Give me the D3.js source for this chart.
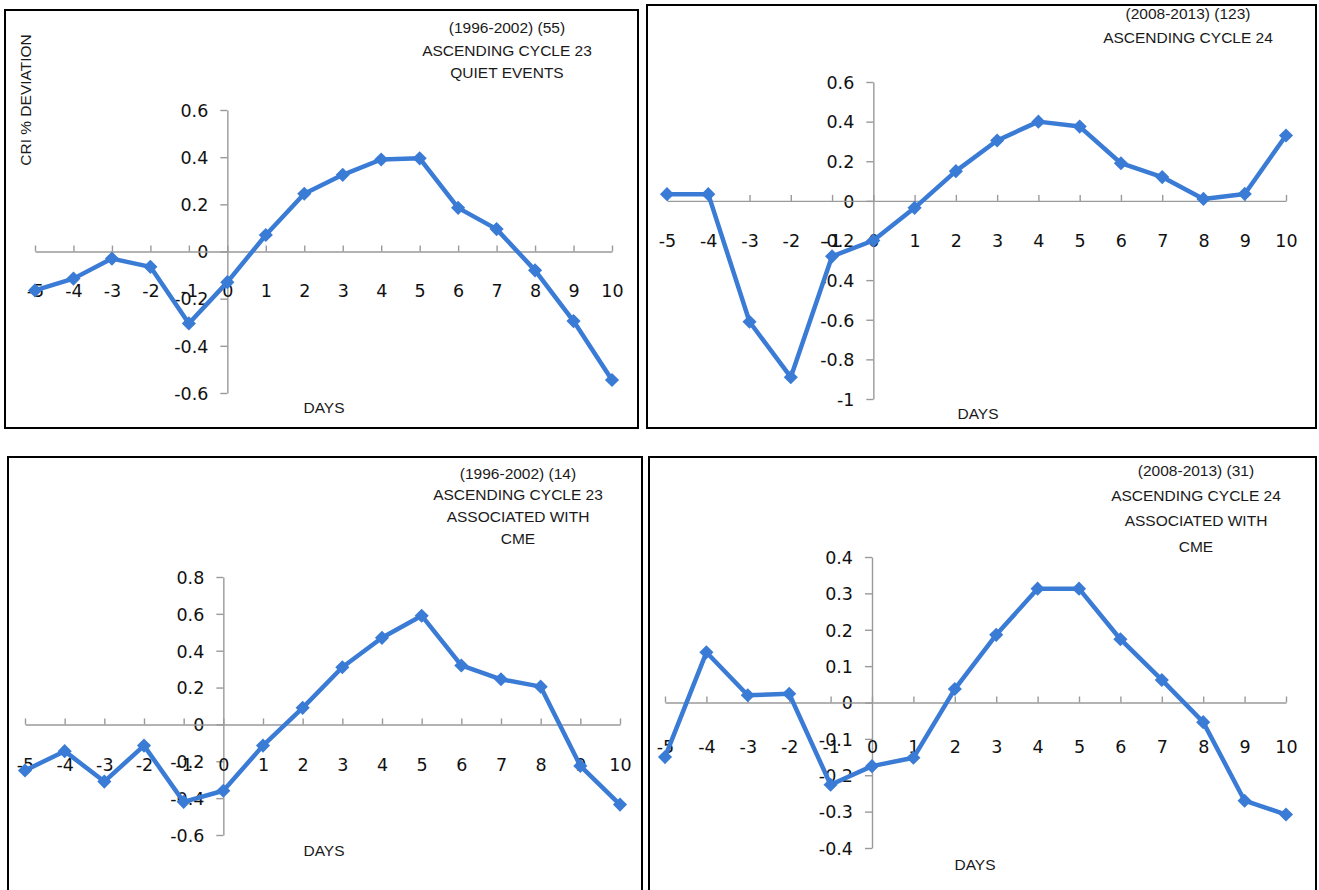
<!DOCTYPE html>
<html>
<head>
<meta charset="utf-8">
<script src="https://cdn.jsdelivr.net/npm/d3@7/dist/d3.min.js"></script>
<style>
  html, body { margin: 0; padding: 0; background: #fff; }
  svg { display: block; }
  .tick text { font-family: "DejaVu Sans", sans-serif; font-size: 17.5px; fill: #111; }
  .note { font-family: "Liberation Sans", Arial, sans-serif; font-size: 15.5px; fill: #1a1a1a; }
</style>
</head>
<body>
<svg id="chart" width="1319" height="890"></svg>
<script>
// Superposed-epoch days relative to the event
const days = [-5, -4, -3, -2, -1, 0, 1, 2, 3, 4, 5, 6, 7, 8, 9, 10];

// CRI % deviation, one series per panel
const quietCycle23 = [-0.165, -0.115, -0.03, -0.065, -0.305, -0.13, 0.07, 0.245, 0.325, 0.39, 0.395, 0.185, 0.095, -0.08, -0.295, -0.545];
const quietCycle24 = [0.034, 0.034, -0.61, -0.89, -0.28, -0.2, -0.035, 0.15, 0.305, 0.4, 0.375, 0.19, 0.12, 0.01, 0.035, 0.33];
const cmeCycle23 = [-0.25, -0.145, -0.31, -0.115, -0.42, -0.36, -0.115, 0.09, 0.31, 0.47, 0.59, 0.32, 0.245, 0.205, -0.225, -0.435];
const cmeCycle24 = [-0.15, 0.138, 0.02, 0.024, -0.226, -0.175, -0.152, 0.037, 0.186, 0.313, 0.313, 0.174, 0.062, -0.054, -0.27, -0.308];

// Value-axis tick labels
const ticksQuiet23 = [0.6, 0.4, 0.2, 0, -0.2, -0.4, -0.6];
const ticksQuiet24 = [0.6, 0.4, 0.2, 0, -0.2, -0.4, -0.6, -0.8, -1];
const ticksCme23 = [0.8, 0.6, 0.4, 0.2, 0, -0.2, -0.4, -0.6];
const ticksCme24 = [0.4, 0.3, 0.2, 0.1, 0, -0.1, -0.2, -0.3, -0.4];

// Panel headings
const titleQuiet23 = ["(1996-2002) (55)", "ASCENDING CYCLE 23", "QUIET EVENTS"];
const titleQuiet24 = ["(2008-2013) (123)", "ASCENDING CYCLE 24"];
const titleCme23 = ["(1996-2002) (14)", "ASCENDING CYCLE 23", "ASSOCIATED WITH", "CME"];
const titleCme24 = ["(2008-2013) (31)", "ASCENDING CYCLE 24", "ASSOCIATED WITH", "CME"];

const LINE = "#3a7bd5";
const AXIS = "#9a9a9a";

const panels = [
  { values: quietCycle23, ticks: ticksQuiet23, title: titleQuiet23, yLabel: "CRI % DEVIATION",
    box: [5, 10, 638, 428], xr: [35, 612], yd: [-0.6, 0.6], yr: [393, 110],
    tx: 507, ty: [27, 50, 72], days: [324, 407], lab: 39 },
  { values: quietCycle24, ticks: ticksQuiet24, title: titleQuiet24,
    box: [647, 5, 1316, 428], xr: [667, 1286], yd: [-1, 0.6], yr: [399, 82],
    tx: 1188, ty: [13, 37], days: [978, 413], lab: 40 },
  { values: cmeCycle23, ticks: ticksCme23, title: titleCme23,
    box: [8, 457, 642, 900], xr: [25, 620], yd: [-0.6, 0.8], yr: [835, 577],
    tx: 518, ty: [473, 494, 516, 538], days: [324, 850], lab: 40 },
  { values: cmeCycle24, ticks: ticksCme24, title: titleCme24,
    box: [649, 457, 1316, 900], xr: [665, 1286], yd: [-0.4, 0.4], yr: [848, 557],
    tx: 1196, ty: [470, 495, 520, 546], days: [975, 864], lab: 44 }
];

const svg = d3.select("#chart");
const fmt = v => String(Math.round(v * 10) / 10);

panels.forEach(p => {
  const g = svg.append("g");
  const [x0, y0, x1, y1] = p.box;

  // frame
  g.append("rect")
    .attr("x", x0).attr("y", y0)
    .attr("width", x1 - x0).attr("height", y1 - y0)
    .attr("fill", "none").attr("stroke", "#000").attr("stroke-width", 2);

  const x = d3.scaleLinear().domain([-5, 10]).range(p.xr);
  const y = d3.scaleLinear().domain(p.yd).range(p.yr);

  // value axis through day 0
  const ya = g.append("g")
    .attr("transform", `translate(${x(0)},0)`)
    .call(d3.axisLeft(y).tickValues(p.ticks).tickFormat(fmt).tickSize(7).tickSizeOuter(0).tickPadding(12));
  ya.select(".domain").attr("stroke", AXIS).attr("stroke-width", 1.4);
  ya.selectAll(".tick line").attr("stroke", AXIS).attr("stroke-width", 1.4);
  ya.selectAll(".tick text").attr("dy", "0.36em");

  // day axis through zero, labels sit well below it
  const xa = g.append("g")
    .attr("transform", `translate(0,${y(0)})`)
    .call(d3.axisBottom(x).tickValues(days).tickFormat(d => String(d)).tickSize(-6).tickSizeOuter(0).tickPadding(p.lab - 6));
  xa.select(".domain").attr("stroke", AXIS).attr("stroke-width", 1.4);
  xa.selectAll(".tick line").attr("stroke", AXIS).attr("stroke-width", 1.4);

  // heading
  g.append("text").attr("class", "note")
    .attr("text-anchor", "middle")
    .selectAll("tspan").data(p.title).join("tspan")
    .attr("x", p.tx).attr("y", (d, i) => p.ty[i])
    .attr("dominant-baseline", "central")
    .text(d => d);

  g.append("text").attr("class", "note")
    .attr("x", p.days[0]).attr("y", p.days[1])
    .attr("text-anchor", "middle").attr("dominant-baseline", "central")
    .text("DAYS");

  if (p.yLabel) {
    g.append("text").attr("class", "note")
      .attr("transform", `translate(25,100) rotate(-90)`)
      .attr("text-anchor", "middle").attr("dominant-baseline", "central")
      .text(p.yLabel);
  }

  const pts = days.map((d, i) => [d, p.values[i]]);

  g.append("path")
    .datum(pts)
    .attr("fill", "none")
    .attr("stroke", LINE)
    .attr("stroke-width", 4.5)
    .attr("stroke-linejoin", "round")
    .attr("d", d3.line().x(d => x(d[0])).y(d => y(d[1])));

  g.selectAll("path.mk").data(pts).join("path")
    .attr("class", "mk")
    .attr("fill", LINE)
    .attr("transform", d => `translate(${x(d[0])},${y(d[1])}) rotate(45)`)
    .attr("d", d3.symbol(d3.symbolSquare, 100)());
});
</script>
</body>
</html>
